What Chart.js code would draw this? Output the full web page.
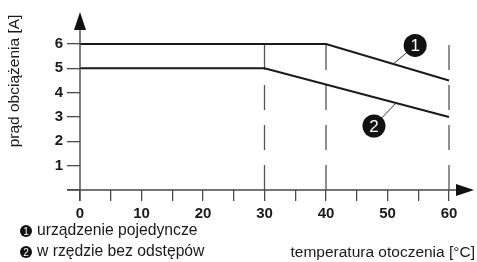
<!DOCTYPE html>
<html>
<head>
<meta charset="utf-8">
<script src="https://cdn.jsdelivr.net/npm/chart.js@4/dist/chart.umd.min.js"></script>
<style>
  html, body { margin: 0; padding: 0; background: #fff; }
</style>
</head>
<body>
<canvas id="deratingChart" width="477" height="262"></canvas>

<script>
// curve 1: single device, curve 2: in a row without gaps
const temps1 = [0, 40, 60];
const current1 = [6, 6, 4.5];
const temps2 = [0, 30, 60];
const current2 = [5, 5, 3];
const dashedAt = [30, 40, 60];
const xTickValues = [0, 10, 20, 30, 40, 50, 60];
const yTickValues = [1, 2, 3, 4, 5, 6];
const legendTexts = ['urządzenie pojedyncze', 'w rzędzie bez odstępów'];
// callout circles: [label, circle x, circle y, leader end x, leader end y] in data units
const callouts = [
    ['1', 54.5, 5.94, 50.9, 5.17],
    ['2', 47.8, 2.63, 51.5, 3.6]
];
const xTitle = 'temperatura otoczenia [°C]';
const yTitle = 'prąd obciążenia [A]';

const FONT = 'Arial, "Liberation Sans", sans-serif';
const INK = '#1a1a1a';
const AXIS = '#4a4a4a';

function dot(ctx, x, y, r, label, size) {
    ctx.beginPath();
    ctx.arc(x, y, r, 0, Math.PI * 2);
    ctx.fillStyle = '#111';
    ctx.fill();
    ctx.fillStyle = '#fff';
    ctx.font = size + 'px ' + FONT;
    ctx.textAlign = 'center';
    ctx.textBaseline = 'middle';
    ctx.fillText(label, x, y + 1);
}

const extras = {
    id: 'extras',
    afterDraw(chart) {
        const ctx = chart.ctx;
        const xs = chart.scales.x;
        const ys = chart.scales.y;
        const x0 = xs.getPixelForValue(0);
        const y0 = ys.getPixelForValue(0);
        const xEnd = xs.getPixelForValue(60);
        const yTop = ys.getPixelForValue(6);
        ctx.save();

        // axes with arrows
        ctx.strokeStyle = AXIS;
        ctx.lineWidth = 1.4;
        ctx.beginPath();
        ctx.moveTo(x0 - 13, y0);
        ctx.lineTo(xEnd + 8, y0);
        ctx.moveTo(x0, y0 + 11);
        ctx.lineTo(x0, yTop - 14);
        ctx.stroke();
        ctx.fillStyle = '#111';
        ctx.beginPath();
        ctx.moveTo(xEnd + 25, y0);
        ctx.lineTo(xEnd + 7, y0 - 6);
        ctx.lineTo(xEnd + 7, y0 + 6);
        ctx.closePath();
        ctx.fill();
        ctx.beginPath();
        ctx.moveTo(x0, yTop - 32);
        ctx.lineTo(x0 - 6, yTop - 14);
        ctx.lineTo(x0 + 6, yTop - 14);
        ctx.closePath();
        ctx.fill();

        // callouts
        callouts.forEach(c => {
            const cx = xs.getPixelForValue(c[1]);
            const cy = ys.getPixelForValue(c[2]);
            const lx = xs.getPixelForValue(c[3]);
            const ly = ys.getPixelForValue(c[4]);
            ctx.strokeStyle = '#333';
            ctx.lineWidth = 1;
            ctx.beginPath();
            ctx.moveTo(cx, cy);
            ctx.lineTo(lx, ly);
            ctx.stroke();
            dot(ctx, cx, cy, 11.5, c[0], 17);
        });

        // legend
        legendTexts.forEach((t, i) => {
            const ly = 231 + i * 21;
            dot(ctx, 26, ly, 6, String(i + 1), 10);
            ctx.fillStyle = INK;
            ctx.font = '15.7px ' + FONT;
            ctx.textAlign = 'left';
            ctx.textBaseline = 'middle';
            ctx.fillText(t, 37, ly);
        });

        // axis titles
        ctx.fillStyle = INK;
        ctx.font = '15.5px ' + FONT;
        ctx.textAlign = 'right';
        ctx.textBaseline = 'middle';
        ctx.fillText(xTitle, 475, 253);

        ctx.translate(15, 81);
        ctx.rotate(-Math.PI / 2);
        ctx.textAlign = 'center';
        ctx.fillText(yTitle, 0, 0);
        ctx.restore();
    }
};

const datasets = [
    {
        data: temps1.map((t, i) => ({ x: t, y: current1[i] })),
        borderColor: INK,
        borderWidth: 2,
        pointRadius: 0,
        clip: false
    },
    {
        data: temps2.map((t, i) => ({ x: t, y: current2[i] })),
        borderColor: INK,
        borderWidth: 2,
        pointRadius: 0,
        clip: false
    }
];
dashedAt.forEach(t => {
    datasets.push({
        data: [{ x: t, y: 0 }, { x: t, y: 6 }],
        borderColor: '#555',
        borderWidth: 1.3,
        borderDash: [25, 15],
        pointRadius: 0,
        clip: false
    });
});

new Chart(document.getElementById('deratingChart'), {
    type: 'line',
    data: { datasets: datasets },
    options: {
        responsive: false,
        animation: false,
        events: [],
        layout: { padding: { top: 44, right: 28, left: 0, bottom: 0 } },
        plugins: {
            legend: { display: false },
            tooltip: { enabled: false }
        },
        scales: {
            x: {
                type: 'linear',
                min: 0,
                max: 60,
                afterFit: s => { s.height = 72; },
                afterBuildTicks: s => {
                    const ticks = [];
                    for (let v = 0; v <= 60; v += 5) ticks.push({ value: v });
                    s.ticks = ticks;
                },
                border: { display: false },
                grid: {
                    drawOnChartArea: false,
                    drawTicks: true,
                    tickLength: 11,
                    color: AXIS,
                    lineWidth: 1.3
                },
                ticks: {
                    autoSkip: false,
                    maxRotation: 0,
                    padding: 4,
                    color: INK,
                    font: { family: FONT, size: 15, weight: 'bold' },
                    callback: v => xTickValues.includes(v) ? String(v) : ''
                }
            },
            y: {
                min: 0,
                max: 6,
                afterFit: s => { s.width = 80; },
                border: { display: false },
                grid: {
                    drawOnChartArea: false,
                    drawTicks: true,
                    tickLength: 13,
                    color: AXIS,
                    lineWidth: 1.3
                },
                ticks: {
                    stepSize: 1,
                    padding: 4,
                    color: INK,
                    font: { family: FONT, size: 15, weight: 'bold' },
                    callback: v => yTickValues.includes(v) ? String(v) : ''
                }
            }
        }
    },
    plugins: [extras]
});
</script>
</body>
</html>
